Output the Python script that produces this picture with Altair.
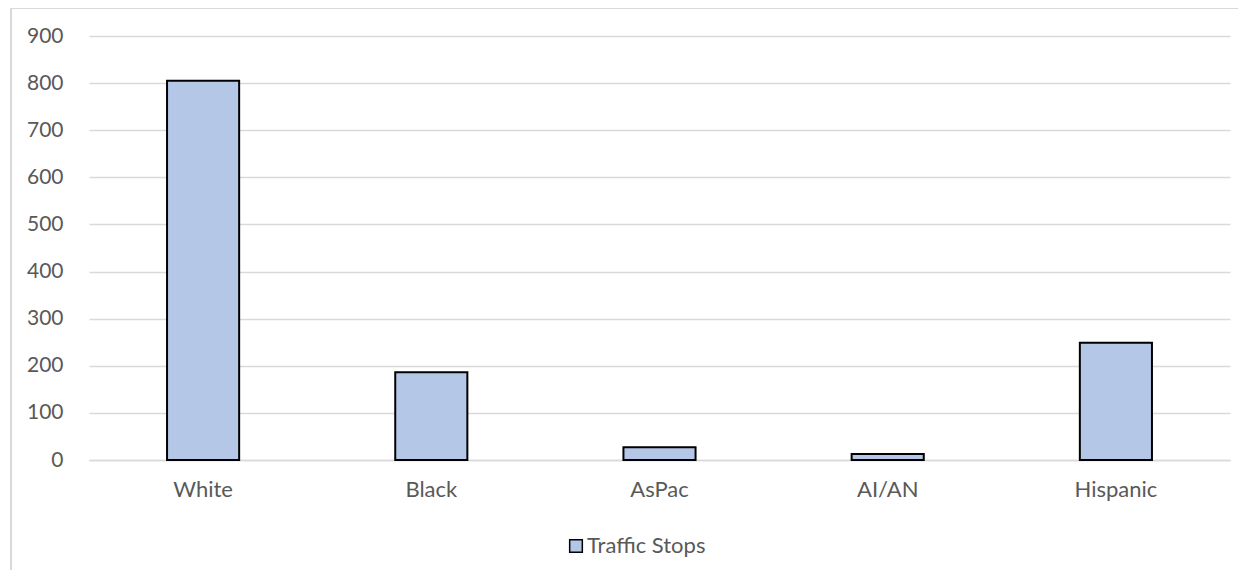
import altair as alt
import pandas as pd

categories = ["White", "Black", "AsPac", "AI/AN", "Hispanic"]
values = [805, 186, 27, 13, 249]
series_name = "Traffic Stops"

df = pd.DataFrame({"category": categories, "value": values, "series": [series_name] * len(categories)})

FONT = "Lato"
TXT = "#595959"

bars = alt.Chart(df).mark_bar(stroke="black", strokeWidth=2).encode(
    x=alt.X("category:N", sort=categories,
            scale=alt.Scale(paddingInner=0.684, paddingOuter=0.342),
            axis=alt.Axis(title=None, labelAngle=0, ticks=False, domain=True,
                          domainColor="#d9d9d9", domainWidth=1.5, labelPadding=19,
                          labelFontSize=22, labelColor=TXT, labelFont=FONT, grid=False)),
    y=alt.Y("value:Q", scale=alt.Scale(domain=[0, 900]),
            axis=alt.Axis(title=None, values=list(range(0, 1000, 100)), ticks=False, domain=False,
                          labelPadding=26, labelFontSize=21, labelColor=TXT, labelFont=FONT,
                          gridColor="#d9d9d9", gridWidth=1.5)),
    color=alt.Color("series:N", scale=alt.Scale(range=["#b4c7e7"]),
                    legend=alt.Legend(title=None, orient="none", legendX=476, legendY=499,
                                      symbolType="square", symbolSize=160,
                                      symbolStrokeColor="black", symbolStrokeWidth=1.5,
                                      labelFontSize=22, labelColor=TXT, labelFont=FONT,
                                      labelOffset=0)),
)

border = alt.Chart(df).mark_rect(fill=None, stroke="#d9d9d9", strokeWidth=1.5).encode(
    x=alt.value(-78), x2=alt.value(1200), y=alt.value(-28), y2=alt.value(600)
)

chart = alt.layer(border, bars).properties(
    width=1141, height=424,
    autosize=alt.AutoSizeParams(type="none"),
    padding={"left": 81, "top": 28, "right": 8, "bottom": 110},
).configure_view(stroke=None)

chart.save("out.html", embed_options={"renderer": "svg", "actions": False})
